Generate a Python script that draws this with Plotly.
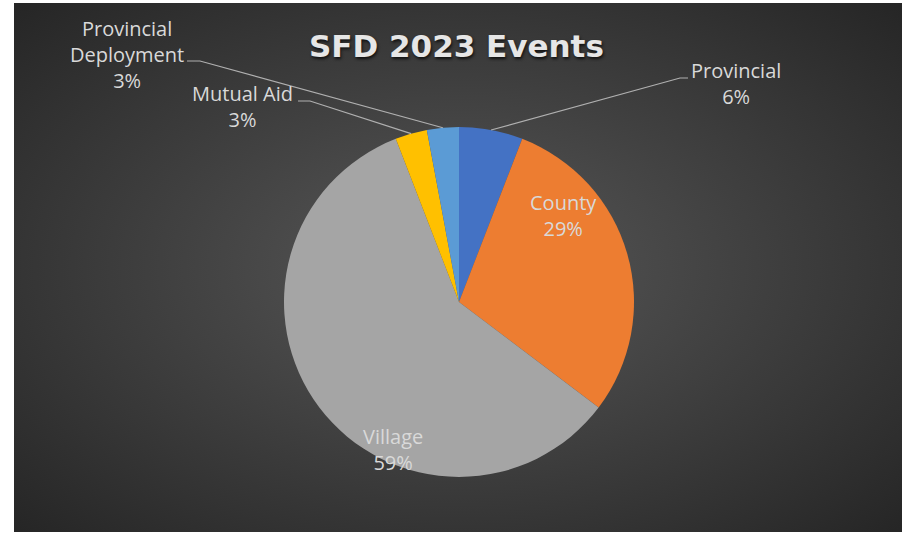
import math
import urllib.parse
import plotly.graph_objects as go

labels = ["Provincial", "County", "Village", "Mutual Aid", "Provincial Deployment"]
values = [2, 10, 20, 1, 1]
colors = ["#4472C4", "#ED7D31", "#A5A5A5", "#FFC000", "#5B9BD5"]
title_text = "SFD 2023 Events"

W, H = 910, 534
CX, CY, R = 459, 302, 175

def px(x):
    return x / W

def py(y):
    return 1 - y / H

total = sum(values)
pcts = [v / total for v in values]
cum = [sum(pcts[:i]) for i in range(len(pcts))]
mid_angles = [(cum[i] + pcts[i] / 2) * 2 * math.pi for i in range(len(pcts))]

def edge_point(i):
    a = mid_angles[i]
    return CX + R * math.sin(a), CY - R * math.cos(a)

fig = go.Figure()
fig.add_trace(go.Pie(
    labels=labels, values=values, sort=False, direction="clockwise", rotation=0,
    marker=dict(colors=colors, line=dict(width=0)),
    textinfo="none", hoverinfo="label+percent", showlegend=False,
    domain=dict(x=[px(CX - R), px(CX + R)], y=[py(CY + R), py(CY - R)]),
))

svg = (
    "<svg xmlns='http://www.w3.org/2000/svg' width='888' height='529'>"
    "<defs><radialGradient id='g' cx='50%' cy='50%' r='70%'>"
    "<stop offset='0%' stop-color='#585858'/>"
    "<stop offset='100%' stop-color='#262626'/>"
    "</radialGradient></defs>"
    "<rect width='888' height='529' fill='url(#g)'/></svg>"
)
src = "data:image/svg+xml;charset=utf-8," + urllib.parse.quote(svg)

fig.add_layout_image(dict(
    source=src, xref="paper", yref="paper", x=px(14), y=py(3),
    sizex=px(888), sizey=529 / H, sizing="stretch", xanchor="left", yanchor="top",
    layer="below",
))

def pct_str(i):
    return f"{round(pcts[i] * 100)}%"

font_lbl = dict(family="Open Sans", size=20, color="#d9d9d9")

# label annotations: (index, text-center px, line anchor px)
label_pos = {
    0: (736, 83, (688, 78), (680, 78)),
    1: (563, 215, None, None),
    2: (393, 449, None, None),
    3: (242, 107, (298, 101), (310, 101)),
    4: (127, 54, (187, 61), (200, 61)),
}
for i, (lx, ly, p0, p1) in label_pos.items():
    name = labels[i].replace(" ", "<br>") if i == 4 else labels[i]
    fig.add_annotation(
        x=px(lx), y=py(ly), xref="paper", yref="paper", showarrow=False,
        text=f"{name}<br>{pct_str(i)}", font=font_lbl, align="center",
        xanchor="center", yanchor="middle",
    )
    if p0 is not None:
        ex, ey = edge_point(i)
        path = f"M {px(p0[0])},{py(p0[1])} L {px(p1[0])},{py(p1[1])} L {px(ex)},{py(ey)}"
        fig.add_shape(type="path", xref="paper", yref="paper", path=path,
                      line=dict(color="#b0b0b0", width=1.2))

fig.add_annotation(
    x=px(456), y=py(46), xref="paper", yref="paper", showarrow=False,
    text=f"<b>{title_text}</b>",
    font=dict(family="DejaVu Sans", size=31, color="#e6e6e6", shadow="1px 2px 3px #111"),
    xanchor="center", yanchor="middle",
)

fig.update_layout(
    width=W, height=H, margin=dict(l=0, r=0, t=0, b=0),
    paper_bgcolor="white", plot_bgcolor="white",
)
fig.write_html("out.html", config={"displayModeBar": False},
               post_script="document.body.style.margin='0';")
